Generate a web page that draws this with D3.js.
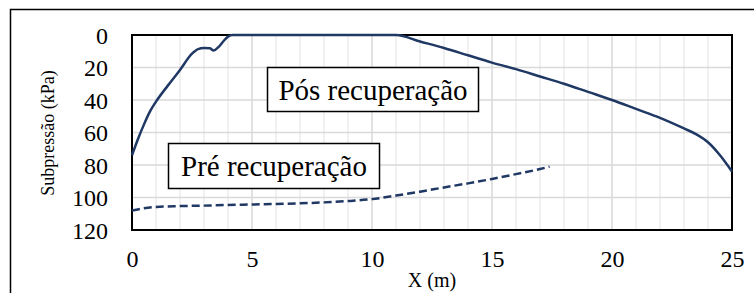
<!DOCTYPE html>
<html>
<head>
<meta charset="utf-8">
<script src="https://d3js.org/d3.v7.min.js"></script>
<style>
  body { margin: 0; background: #fff; }
</style>
</head>
<body>
<script>
// values
var posX = [0, 0.25, 0.5, 0.75, 1, 1.5, 2, 2.5, 2.75, 3, 3.25, 3.4, 3.6, 3.8, 4, 4.2, 11, 12, 13, 14, 15, 16, 17, 18, 19, 20, 21, 22, 23, 23.5, 24, 24.5, 25];
var posY = [74, 64, 55, 47, 41, 31, 21.5, 11.5, 8.7, 8, 8.2, 9.6, 7.5, 4, 1, 0, 0, 4, 8, 12.5, 17, 21, 25.5, 30, 35, 40, 45.5, 51, 57.5, 61, 66, 74, 84];
var preX = [0, 0.5, 1, 2, 3, 4, 5, 6, 7, 8, 9, 10, 11, 12, 13, 14, 15, 16, 17, 17.4];
var preY = [108, 106.6, 105.8, 105.3, 105, 104.6, 104.3, 104, 103.6, 103, 102.2, 101, 98.8, 96.4, 93.8, 91.3, 88.6, 85.6, 82.5, 81];
var xTicks = [0, 5, 10, 15, 20, 25];
var yTicks = [0, 20, 40, 60, 80, 100, 120];
var xMinor = d3.range(0, 26, 1);

var width = 754, height = 293;
// plot area edges (window.top is taken, so own names)
var pLeft = 132, pRight = 732, pTop = 35, pBottom = 230;
var lineColor = "#203864";
var serif = "Liberation Serif";

var svg = d3.select("body").append("svg")
  .attr("width", width).attr("height", height);

// outer chart frame (right and bottom fall off the picture)
svg.append("rect")
  .attr("x", 10.5).attr("y", 9.5)
  .attr("width", 760).attr("height", 300)
  .attr("fill", "none").attr("stroke", "#000").attr("stroke-width", 1.5);

var x = d3.scaleLinear().domain([0, 25]).range([pLeft, pRight]);
var y = d3.scaleLinear().domain([0, 120]).range([pTop, pBottom]);

// minor vertical grid
svg.append("g").selectAll("line")
  .data(xMinor.filter(function(d) { return d % 5 != 0; }))
  .enter().append("line")
  .attr("x1", function(d) { return x(d); }).attr("x2", function(d) { return x(d); })
  .attr("y1", pTop).attr("y2", pBottom)
  .attr("stroke", "#ececec").attr("stroke-width", 1.5);

// major vertical grid
svg.append("g").selectAll("line")
  .data(xTicks)
  .enter().append("line")
  .attr("x1", function(d) { return x(d); }).attr("x2", function(d) { return x(d); })
  .attr("y1", pTop).attr("y2", pBottom)
  .attr("stroke", "#d9d9d9").attr("stroke-width", 1.5);

// horizontal grid
svg.append("g").selectAll("line")
  .data(yTicks)
  .enter().append("line")
  .attr("x1", pLeft).attr("x2", pRight)
  .attr("y1", function(d) { return y(d); }).attr("y2", function(d) { return y(d); })
  .attr("stroke", "#d9d9d9").attr("stroke-width", 1.5);

// axes (labels only, frame drawn separately)
var yAxis = svg.append("g")
  .attr("transform", "translate(" + (pLeft - 24) + ",0)")
  .call(d3.axisLeft(y).tickValues(yTicks).tickSize(0).tickPadding(0))
  .attr("font-family", serif);
yAxis.select(".domain").remove();
yAxis.selectAll("text")
  .attr("font-size", 24).attr("fill", "#000")
  .attr("dy", "0.35em");

var xAxis = svg.append("g")
  .attr("transform", "translate(0," + (pBottom + 20) + ")")
  .call(d3.axisBottom(x).tickValues(xTicks).tickSize(0).tickPadding(0))
  .attr("font-family", serif);
xAxis.select(".domain").remove();
xAxis.selectAll("text")
  .attr("font-size", 24).attr("fill", "#000")
  .attr("dy", "0.71em");

// plot frame
svg.append("rect")
  .attr("x", pLeft).attr("y", pTop)
  .attr("width", pRight - pLeft).attr("height", pBottom - pTop)
  .attr("fill", "none").attr("stroke", "#000").attr("stroke-width", 2);

// series
var line = d3.line()
  .x(function(d) { return x(d[0]); })
  .y(function(d) { return y(d[1]); })
  .curve(d3.curveMonotoneX);

svg.append("path")
  .datum(d3.zip(posX, posY))
  .attr("d", line)
  .attr("fill", "none").attr("stroke", lineColor).attr("stroke-width", 2.5);

svg.append("path")
  .datum(d3.zip(preX, preY))
  .attr("d", line)
  .attr("fill", "none").attr("stroke", lineColor).attr("stroke-width", 2.5)
  .attr("stroke-dasharray", "8,4");

// axis titles
svg.append("text")
  .attr("transform", "translate(54,133) rotate(-90)")
  .attr("text-anchor", "middle")
  .attr("font-family", serif)
  .attr("font-size", 18)
  .text("Subpressão (kPa)");

svg.append("text")
  .attr("x", 432).attr("y", 287)
  .attr("text-anchor", "middle")
  .attr("font-family", serif)
  .attr("font-size", 20)
  .text("X (m)");

// labels in boxes
function boxLabel(txt, bx, by, bw, bh) {
  svg.append("rect")
    .attr("x", bx).attr("y", by).attr("width", bw).attr("height", bh)
    .attr("fill", "#fff").attr("stroke", "#000").attr("stroke-width", 1.5);
  svg.append("text")
    .attr("x", bx + bw / 2).attr("y", by + bh / 2)
    .attr("dy", "0.35em")
    .attr("text-anchor", "middle")
    .attr("font-family", serif)
    .attr("font-size", 29)
    .text(txt);
}
boxLabel("Pós recuperação", 267.5, 67.5, 211, 44);
boxLabel("Pré recuperação", 168.5, 143.5, 211, 45);
</script>
</body>
</html>
